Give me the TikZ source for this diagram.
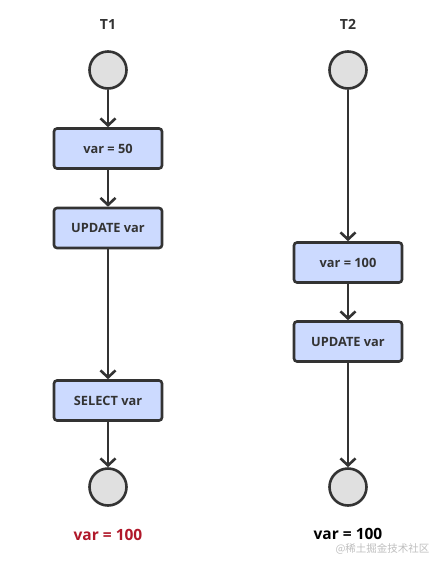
\documentclass[tikz,border=0pt]{standalone}
\usepackage{fontspec}
\setmainfont{Open Sans}
\newfontfamily\cjk{Noto Sans CJK SC}
\usetikzlibrary{arrows.meta}
\definecolor{edge}{HTML}{333333}
\definecolor{boxfill}{HTML}{CCDAFF}
\definecolor{circfill}{HTML}{E0E0E0}
\definecolor{redtxt}{HTML}{B0182A}
\tikzset{
  stepbox/.style={draw=edge, line width=2.6pt, fill=boxfill, rounded corners=3pt,
    minimum width=108pt, minimum height=40pt, inner sep=0pt,
    font=\fontsize{12.8}{15}\selectfont\bfseries, text=edge},
  state/.style={draw=edge, line width=2.6pt, fill=circfill, circle, minimum size=37pt, inner sep=0pt},
  flow/.style={draw=edge, line width=2.6pt, -{Straight Barb[length=7pt,width=15pt,line width=2.6pt]}},
  title/.style={font=\fontsize{14}{16}\selectfont\bfseries, text=edge},
  result/.style={font=\fontsize{15.5}{18}\selectfont\bfseries},
}
\begin{document}
\begin{tikzpicture}[x=1pt,y=-1pt]
\useasboundingbox[fill=white] (0,0) rectangle (447,566);
% T1
\node[title] (t1) at (108,24) {T1};
\node[state] (s1) at (108,70) {};
\node[stepbox] (a1) at (108,148.5) {var = 50};
\node[stepbox] (a2) at (108,228) {UPDATE var};
\node[stepbox] (a3) at (108,400.5) {SELECT var};
\node[state] (e1) at (108,487) {};
\node[result, text=redtxt] (r1) at (108,535) {var = 100};
\draw[flow] (s1) -- (a1);
\draw[flow] (a1) -- (a2);
\draw[flow] (a2) -- (a3);
\draw[flow] (a3) -- (e1);
% T2
\node[title] (t2) at (348,24) {T2};
\node[state] (s2) at (348,70) {};
\node[stepbox] (b1) at (348,262.5) {var = 100};
\node[stepbox] (b2) at (348,341.5) {UPDATE var};
\node[state] (e2) at (348,487) {};
\node[result, text=black] (r2) at (348,534) {var = 100};
\draw[flow] (s2) -- (b1);
\draw[flow] (b1) -- (b2);
\draw[flow] (b2) -- (e2);
% watermark
\node[text=black!25, font=\cjk\fontsize{10.5}{12}\selectfont, anchor=east] (wm) at (433,549) {@稀土掘金技术社区};
\end{tikzpicture}
\end{document}
